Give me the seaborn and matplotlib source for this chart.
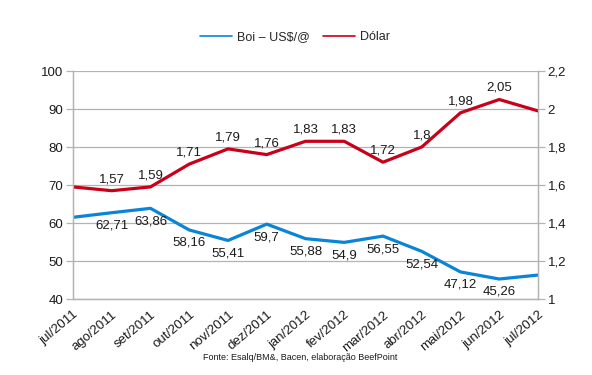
import pandas as pd
import matplotlib.pyplot as plt
import seaborn as sns

# --- dados ---
meses = ["jul/2011", "ago/2011", "set/2011", "out/2011", "nov/2011", "dez/2011",
         "jan/2012", "fev/2012", "mar/2012", "abr/2012", "mai/2012", "jun/2012", "jul/2012"]
boi_usd = [61.5, 62.71, 63.86, 58.16, 55.41, 59.7, 55.88, 54.9, 56.55, 52.54, 47.12, 45.26, 46.3]
dolar = [1.59, 1.57, 1.59, 1.71, 1.79, 1.76, 1.83, 1.83, 1.72, 1.8, 1.98, 2.05, 1.99]
rotulo_idx = list(range(1, 12))  # pontos com rótulo de valor

sns.set_style("white")
plt.rcParams['font.family'] = ['Liberation Sans', 'DejaVu Sans']

AZUL = "#0a84d6"
VERMELHO = "#c8001a"
CINZA = "#b3b3b3"

df = pd.DataFrame({"mes": meses, "boi": boi_usd, "dolar": dolar})
df["x"] = range(len(df))

fig = plt.figure(figsize=(5.92, 3.75), dpi=100)
ax = fig.add_axes([73 / 592, 1 - 299 / 375, (538 - 73) / 592, (299 - 71) / 375])
ax2 = ax.twinx()

sns.lineplot(data=df, x="x", y="boi", ax=ax, color=AZUL, lw=2.3, legend=False)
sns.lineplot(data=df, x="x", y="dolar", ax=ax2, color=VERMELHO, lw=2.3, legend=False)

ax.set_ylim(40, 100)
ax2.set_ylim(1, 2.2)
ax.set_xlim(0, len(meses) - 1)
ax.set_yticks(range(40, 101, 10))
ax2.set_yticks([1, 1.2, 1.4, 1.6, 1.8, 2, 2.2])
ax2.set_yticklabels(["1", "1,2", "1,4", "1,6", "1,8", "2", "2,2"])
ax.grid(axis="y", color=CINZA, lw=0.9)
ax.set_axisbelow(True)

ax.set_xticks(df["x"])
ax.set_xticklabels(meses, rotation=40, ha="right", rotation_mode="anchor")
ax.set_xlabel("")
ax.set_ylabel("")
ax2.set_ylabel("")

for a in (ax, ax2):
    for s in a.spines.values():
        s.set_color(CINZA)
        s.set_linewidth(0.9)
    a.spines["top"].set_visible(False)
    a.tick_params(length=5, width=0.9, color=CINZA, labelsize=9.5, labelcolor="#1a1a1a", pad=2)

# rótulos de valor
fmt = lambda v: f"{v:g}".replace(".", ",")
for i in rotulo_idx:
    ax.annotate(fmt(boi_usd[i]), (i, boi_usd[i]), xytext=(0, -5), textcoords="offset points",
                ha="center", va="top", fontsize=9.5, color="#1a1a1a")
    ax2.annotate(fmt(dolar[i]), (i, dolar[i]), xytext=(0, 4), textcoords="offset points",
                 ha="center", va="bottom", fontsize=9.5, color="#1a1a1a")

# legenda
h1 = plt.Line2D([], [], color=AZUL, lw=1.2)
h2 = plt.Line2D([], [], color=VERMELHO, lw=1.2)
fig.legend([h1, h2], ["Boi – US$/@", "Dólar"], loc="center", bbox_to_anchor=(295 / 592, 1 - 37 / 375),
           ncol=2, frameon=False, fontsize=9, handlelength=2.6, handletextpad=0.4, columnspacing=1.0)

fig.text(300 / 592, 1 - 357 / 375, "Fonte: Esalq/BM&, Bacen, elaboração BeefPoint",
         ha="center", va="center", fontsize=6.5, color="#1a1a1a")

fig.savefig("out.png", dpi=100, facecolor="white")
